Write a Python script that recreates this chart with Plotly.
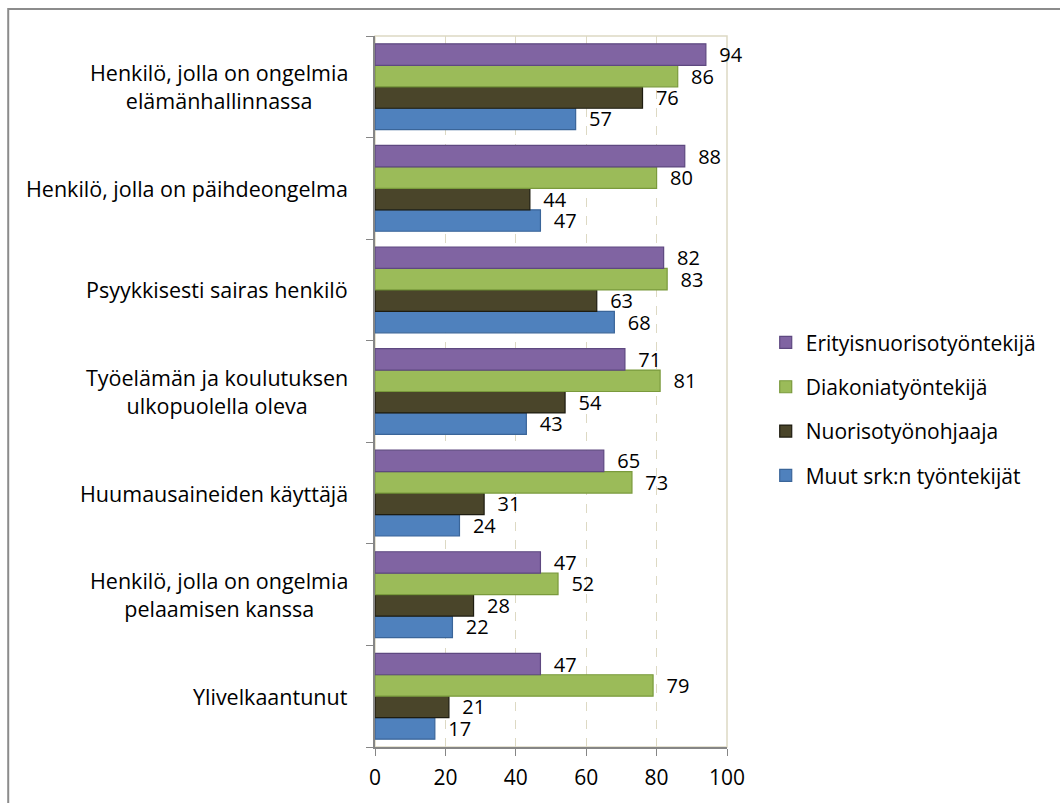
import plotly.graph_objects as go

categories = [
    "Henkilö, jolla on ongelmia<br>elämänhallinnassa",
    "Henkilö, jolla on päihdeongelma",
    "Psyykkisesti sairas henkilö",
    "Työelämän ja koulutuksen<br>ulkopuolella oleva",
    "Huumausaineiden käyttäjä",
    "Henkilö, jolla on ongelmia<br>pelaamisen kanssa",
    "Ylivelkaantunut",
]
erityis = [94, 88, 82, 71, 65, 47, 47]
diakonia = [86, 80, 83, 81, 73, 52, 79]
nuoriso = [76, 44, 63, 54, 31, 28, 21]
muut = [57, 47, 68, 43, 24, 22, 17]
x_ticks = [0, 20, 40, 60, 80, 100]

FONT = "Open Sans, Calibri, sans-serif"

# plotly draws the first trace at the bottom of each group, so go bottom-up
series = [
    ("Muut srk:n työntekijät", muut, "#4F81BD", "#3A6599"),
    ("Nuorisotyönohjaaja", nuoriso, "#4A452A", "#1E1C10"),
    ("Diakoniatyöntekijä", diakonia, "#9BBB59", "#7A9A3C"),
    ("Erityisnuorisotyöntekijä", erityis, "#8064A2", "#5E4880"),
]

fig = go.Figure()
for i, (name, vals, color, edge) in enumerate(series):
    fig.add_trace(go.Bar(
        y=categories[::-1], x=vals[::-1], name=name, orientation="h",
        legendgroup=name, legendrank=len(series) - i,
        marker=dict(color=color, line=dict(color=edge, width=1.2)),
        texttemplate="\u00a0\u00a0%{x}", textposition="outside",
        constraintext="none", cliponaxis=False,
        textfont=dict(family=FONT, size=20, color="#000"),
    ))

# centred category labels (plotly right-aligns multi-line tick labels)
annotations = [
    dict(x=-0.07, y=c, xref="paper", yref="y", text=c, showarrow=False,
         xanchor="right", align="center",
         font=dict(family=FONT, size=21.5, color="#000"))
    for c in categories
]

fig.update_layout(
    barmode="group",
    bargap=0.155,
    bargroupgap=0,
    width=1060, height=803,
    margin=dict(l=375, r=333, t=36, b=56, autoexpand=False),
    paper_bgcolor="white",
    plot_bgcolor="white",
    font=dict(family=FONT, size=20, color="#000"),
    showlegend=True,
    legend=dict(
        x=1.11, y=0.475, yanchor="middle", xanchor="left",
        traceorder="grouped", font=dict(family=FONT, size=21),
        tracegroupgap=14,
    ),
    xaxis=dict(
        range=[0, 100], tickvals=x_ticks, ticks="outside", ticklen=7,
        tickcolor="#868686", showline=True, linecolor="#868686", linewidth=1.5,
        showgrid=True, gridcolor="#DDD9C3", griddash="dash", gridwidth=1,
        zeroline=False, tickfont=dict(family=FONT, size=21), ticklabelstandoff=4,
    ),
    yaxis=dict(
        showticklabels=False, ticks="outside", tickson="boundaries", ticklen=7,
        tickcolor="#868686", showline=True, linecolor="#868686", linewidth=1.5,
        showgrid=False, zeroline=False,
    ),
    annotations=annotations,
    shapes=[
        # light plot-area frame (top and right)
        dict(type="rect", xref="paper", yref="paper", x0=0, x1=1, y0=0, y1=1,
             line=dict(color="#DDD9C3", width=1.5), layer="below"),
        # outer chart border
        dict(type="rect", xref="paper", yref="paper", x0=-1.042, x1=1.96,
             y0=-0.09, y1=1.038, line=dict(color="#8C8C8C", width=2)),
    ],
)

fig.write_html("out.html", config={"displayModeBar": False},
               post_script="document.body.style.margin='0';")
